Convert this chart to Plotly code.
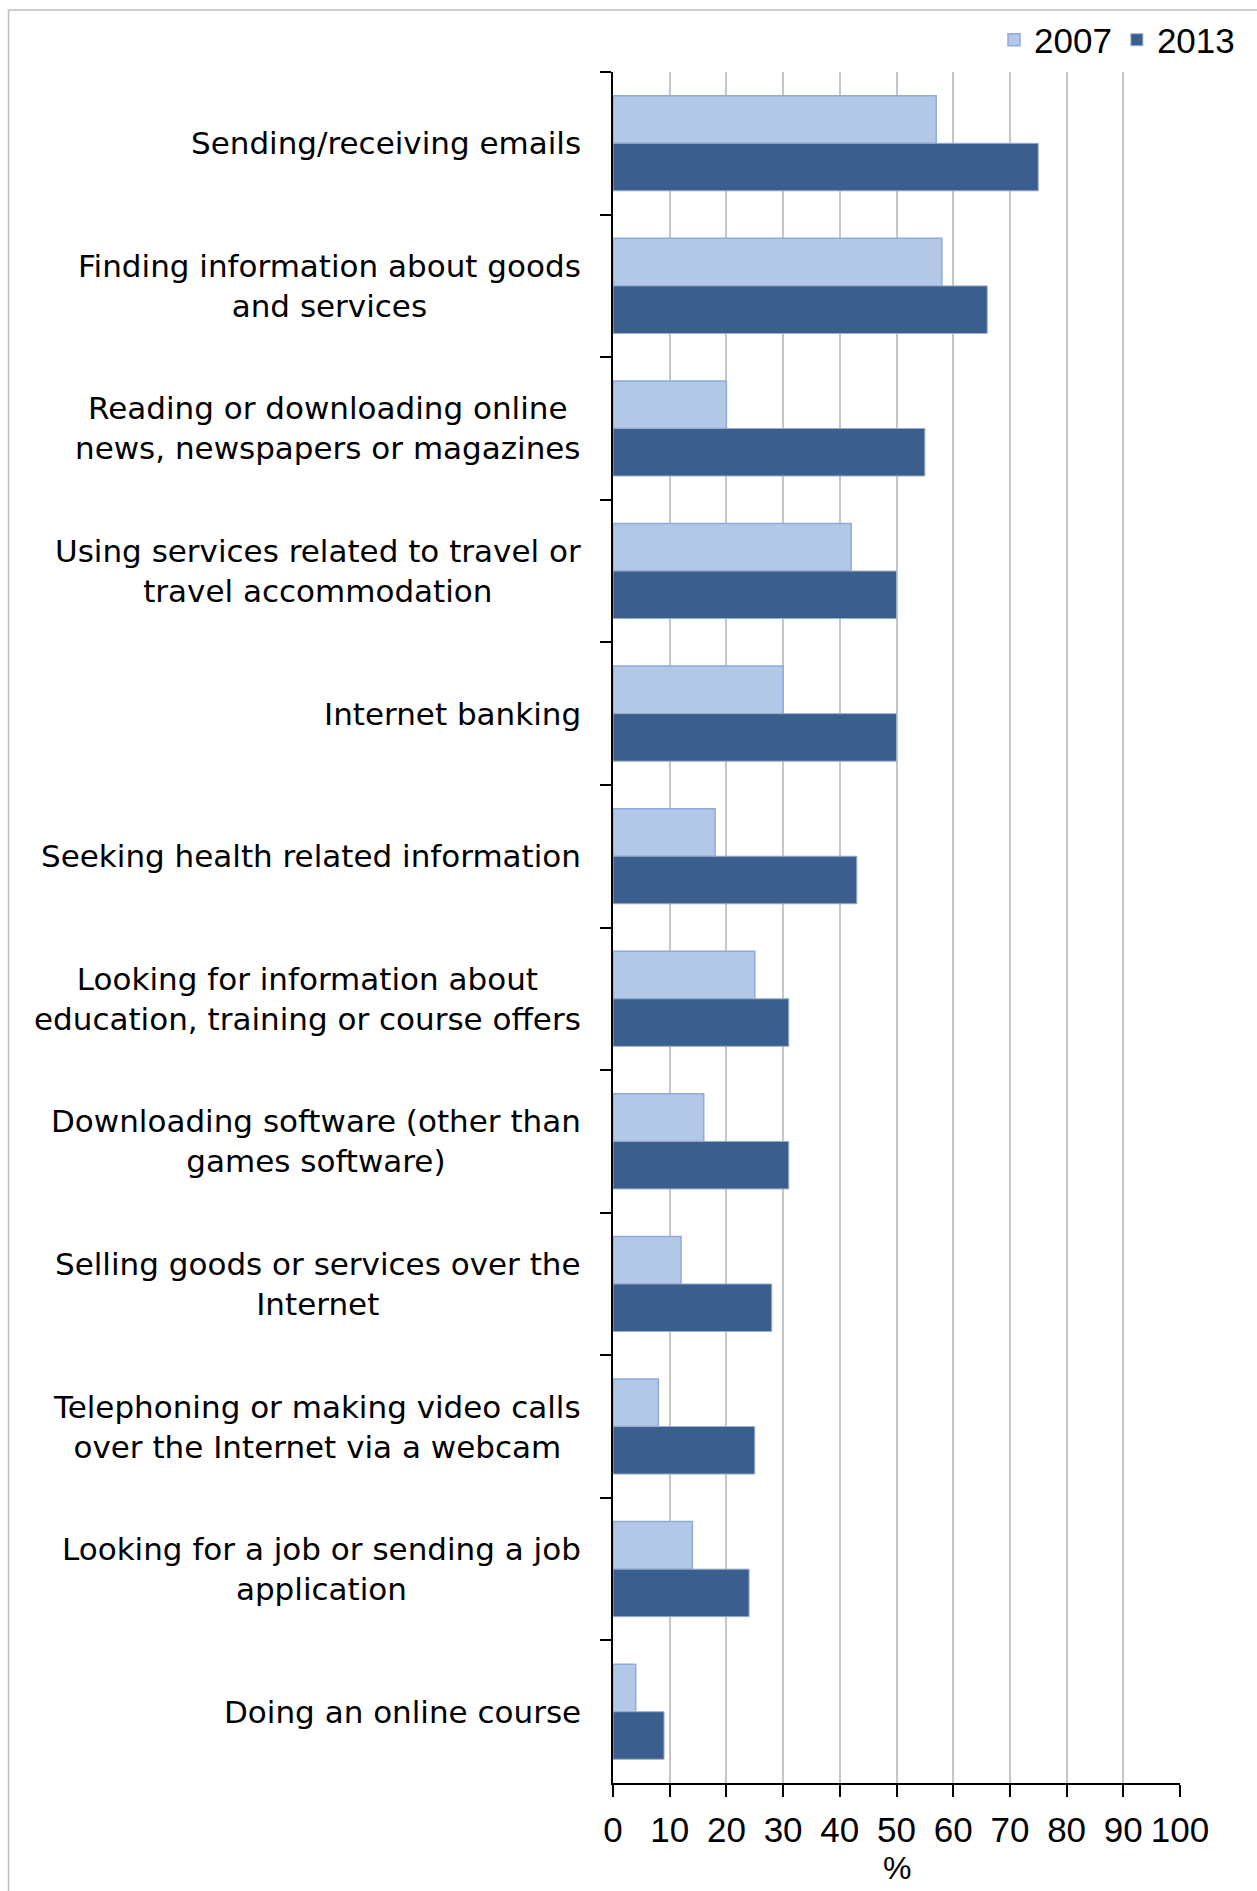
import plotly.graph_objects as go

# Internet activities, share of users (%) in 2007 and 2013
categories = [
    "Sending/receiving emails",
    "Finding information about goods<br>and services",
    "Reading or downloading online<br>news, newspapers or magazines",
    "Using services related to travel or<br>travel accommodation",
    "Internet banking",
    "Seeking health related information",
    "Looking for information about<br>education, training or course offers",
    "Downloading software (other than<br>games software)",
    "Selling goods or services over the<br>Internet",
    "Telephoning or making video calls<br>over the Internet via a webcam",
    "Looking for a job or sending a job<br>application",
    "Doing an online course",
]
values_2007 = [57, 58, 20, 42, 30, 18, 25, 16, 12, 8, 14, 4]
values_2013 = [75, 66, 55, 50, 50, 43, 31, 31, 28, 25, 24, 9]
series_names = ["2007", "2013"]
x_ticks = [0, 10, 20, 30, 40, 50, 60, 70, 80, 90, 100]
x_title = "%"

LABEL_FONT = "DejaVu Sans"
NUM_FONT = "Liberation Sans Narrow, Arial Narrow, Liberation Sans, Arial, sans-serif"

W, H = 1257, 1891
M_L, M_R, M_T, M_B = 613, 77, 71, 108
plot_w = W - M_L - M_R
plot_h = H - M_T - M_B

fig = go.Figure()
fig.add_trace(go.Bar(
    name=series_names[0], y=categories, x=values_2007, orientation="h",
    marker=dict(color="#B3C7E6", line=dict(color="#8FAADC", width=1.5)),
))
fig.add_trace(go.Bar(
    name=series_names[1], y=categories, x=values_2013, orientation="h",
    marker=dict(color="#3A5F8F", line=dict(color="#9DAEC8", width=1)),
))

# centred, right-aligned category labels beside the axis
annotations = []
for cat in categories:
    annotations.append(dict(
        x=0, xref="paper", xshift=-30, xanchor="right",
        y=cat, yref="y", yanchor="middle",
        text=cat, align="center", showarrow=False,
        font=dict(family=LABEL_FONT, size=31, color="#000000"),
    ))


def px_x(px):
    return (px - M_L) / plot_w


def px_y(py):
    return (H - M_B - py) / plot_h


# x-axis title placed below the tick labels
annotations.append(dict(
    x=0.5, xref="paper", y=px_y(1868), yref="paper",
    xanchor="center", yanchor="middle", text=x_title, showarrow=False,
    font=dict(family=NUM_FONT, size=32, color="#000000"),
))

fig.update_layout(
    width=W, height=H, autosize=False,
    margin=dict(l=M_L, r=M_R, t=M_T, b=M_B),
    paper_bgcolor="white", plot_bgcolor="white",
    barmode="group", bargap=0.333, bargroupgap=0,
    showlegend=True,
    legend=dict(
        orientation="h", x=px_x(1240), xanchor="right",
        y=px_y(40), yanchor="middle",
        font=dict(family=NUM_FONT, size=35, color="#000000"),
        bgcolor="rgba(0,0,0,0)", itemclick=False,
    ),
    annotations=annotations,
    shapes=[dict(
        type="rect", xref="paper", yref="paper",
        x0=px_x(8.5), x1=px_x(1300), y0=px_y(1950), y1=px_y(9),
        line=dict(color="#BDBDBD", width=1.5), fillcolor="rgba(0,0,0,0)",
        layer="below",
    )],
    font=dict(family=NUM_FONT, color="#000000"),
)

fig.update_xaxes(
    range=[0, 100], tickvals=x_ticks, ticktext=[str(v) for v in x_ticks],
    tickangle=0, automargin=False,
    ticks="outside", ticklen=12, tickwidth=2, tickcolor="#000000",
    showline=True, linecolor="#000000", linewidth=2,
    showgrid=True, gridcolor="#C6C6C6", gridwidth=2, zeroline=False,
    tickfont=dict(family=NUM_FONT, size=35, color="#000000"),
    ticklabelstandoff=3,
    fixedrange=True,
)
fig.update_yaxes(
    autorange="reversed", type="category", automargin=False,
    showticklabels=False, ticks="outside", tickson="boundaries",
    ticklen=11, tickwidth=2, tickcolor="#000000",
    showline=True, linecolor="#000000", linewidth=2,
    showgrid=False, zeroline=False, fixedrange=True,
)

fig.write_html("out.html")
